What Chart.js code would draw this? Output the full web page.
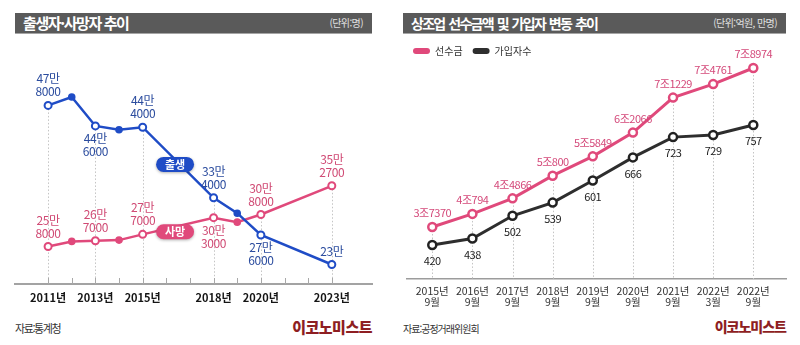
<!DOCTYPE html>
<html lang="ko">
<head>
<meta charset="utf-8">
<script src="https://cdn.jsdelivr.net/npm/chart.js@4.4.1/dist/chart.umd.min.js"></script>
<style>
  body { margin: 0; width: 800px; height: 345px; background: #fff; position: relative; overflow: hidden;
         font-family: "Noto Sans CJK KR", "Noto Sans", sans-serif; }
  .bar { position: absolute; top: 13px; height: 20px; background: #5a5a5a; border-bottom: 1px solid #a5a5a5; color: #fff; }
  .bar h2 { margin: 0; position: absolute; left: 8px; top: 0; line-height: 20px; font-size: 15px; font-weight: 700; letter-spacing: -1.4px; white-space: nowrap; }
  .bar .unit { position: absolute; right: 9px; top: 0; line-height: 20px; font-size: 10px; color: #e0e0e0; letter-spacing: -0.6px; }
  .box { position: absolute; width: 400px; }
  .src { position: absolute; top: 320px; font-size: 11px; color: #333; letter-spacing: -1.4px; }
  .logo { position: absolute; top: 316px; font-size: 15px; font-weight: 900; color: #8e1e22; letter-spacing: -0.5px; }
</style>
</head>
<body>
<div class="bar" style="left:15px;width:357px"><h2>출생자·사망자 추이</h2><span class="unit">(단위:명)</span></div>
<div class="bar" style="left:403px;width:383px"><h2 style="font-size:14px;letter-spacing:-1.7px;word-spacing:1.5px">상조업 선수금액 및 가입자 변동 추이</h2><span class="unit">(단위:억원, 만명)</span></div>

<div class="box" style="left:0;top:40px;height:270px"><canvas id="popChart" width="400" height="270"></canvas></div>
<div class="box" style="left:400px;top:36px;height:274px"><canvas id="fundChart" width="400" height="274"></canvas></div>

<div class="src" style="left:15px">자료:통계청</div>
<div class="logo" style="right:428px">이코노미스트</div>
<div class="src" style="left:403px;letter-spacing:-1px;font-size:10px;top:321px">자료:공정거래위원회</div>
<div class="logo" style="right:14px;font-size:14px;letter-spacing:-1px">이코노미스트</div>

<script>
// 출생자·사망자 추이 (명)
const years = [2011, 2012, 2013, 2014, 2015, 2016, 2017, 2018, 2019, 2020, 2021, 2022, 2023];
const births = [478000, 491000, 446000, 440000, 444000, null, null, 334000, 310000, 276000, null, null, 230000];
const deaths = [258000, 266000, 267000, 268000, 277000, null, null, 303000, 296000, 308000, null, null, 352700];
const labeledYears = [2011, 2013, 2015, 2018, 2020, 2023];

// 상조업 선수금(억원) / 가입자수(만명)
const periods = [['2015년', '9월'], ['2016년', '9월'], ['2017년', '9월'], ['2018년', '9월'], ['2019년', '9월'],
                 ['2020년', '9월'], ['2021년', '9월'], ['2022년', '3월'], ['2022년', '9월']];
const prepaid = [37370, 40794, 44866, 50800, 55849, 62066, 71229, 74761, 78974];
const members = [420, 438, 502, 539, 601, 666, 723, 729, 757];

const FONT = '"Noto Sans CJK KR", "Noto Sans", sans-serif';
const BLUE = '#1f4cc6';
const PINK = '#e0497b';
const DARK = '#2e2e2e';

Chart.defaults.font.family = FONT;
Chart.defaults.animation = false;

function fmtMan(v) {
    const man = Math.floor(v / 10000);
    const rest = v % 10000;
    return rest ? [man + '만', String(rest)] : [man + '만'];
}

function fmtJo(v) {
    return [Math.floor(v / 10000) + '조' + (v % 10000)];
}

// dotted guides from the highest point down to the axis
const guideLines = {
    id: 'guideLines',
    beforeDatasetsDraw(chart, args, opts) {
        const { ctx, chartArea } = chart;
        ctx.save();
        ctx.strokeStyle = '#c4c4c4';
        ctx.lineWidth = 1;
        ctx.setLineDash([1.5, 2]);
        opts.indices.forEach(i => {
            let top = Infinity, x = null;
            chart.data.datasets.forEach((d, k) => {
                const p = chart.getDatasetMeta(k).data[i];
                if (p && !p.skip && isFinite(p.y)) { top = Math.min(top, p.y); x = p.x; }
            });
            if (x === null) return;
            ctx.beginPath();
            ctx.moveTo(Math.round(x) + 0.5, top);
            ctx.lineTo(Math.round(x) + 0.5, chartArea.bottom);
            ctx.stroke();
        });
        ctx.restore();
    }
};

// short tick marks standing on the axis line
const axisTicks = {
    id: 'axisTicks',
    afterDraw(chart, args, opts) {
        if (!opts.show) return;
        const { ctx, chartArea, scales } = chart;
        ctx.save();
        ctx.strokeStyle = '#a8a8a8';
        ctx.lineWidth = 1;
        scales.x.ticks.forEach(t => {
            const x = Math.round(scales.x.getPixelForValue(t.value)) + 0.5;
            ctx.beginPath();
            ctx.moveTo(x, chartArea.bottom - 6);
            ctx.lineTo(x, chartArea.bottom);
            ctx.stroke();
        });
        ctx.restore();
    }
};

// value text next to the points
const valueLabels = {
    id: 'valueLabels',
    afterDatasetsDraw(chart, args, opts) {
        const { ctx } = chart;
        ctx.save();
        ctx.font = opts.font;
        ctx.letterSpacing = opts.spacing;
        ctx.textAlign = 'center';
        ctx.textBaseline = 'middle';
        chart.data.datasets.forEach((ds, k) => {
            const meta = chart.getDatasetMeta(k);
            ctx.fillStyle = ds.labelColor;
            ds.labelIdx.forEach(i => {
                const p = meta.data[i];
                const raw = ds.data[i];
                const v = typeof raw === 'object' ? raw.y : raw;
                const lines = ds.format(v);
                if (ds.labelBelow.includes(i)) {
                    lines.forEach((s, n) => ctx.fillText(s, p.x, p.y + opts.below + n * opts.lineHeight));
                } else {
                    const last = lines.length - 1;
                    lines.forEach((s, n) => ctx.fillText(s, p.x, p.y - opts.above - (last - n) * opts.lineHeight));
                }
            });
        });
        ctx.restore();
    }
};

// pill-shaped series names on the lines
const badges = {
    id: 'badges',
    afterDatasetsDraw(chart, args, opts) {
        const { ctx, scales } = chart;
        ctx.save();
        ctx.font = 'bold 11px ' + FONT;
        ctx.textAlign = 'center';
        ctx.textBaseline = 'middle';
        opts.items.forEach(b => {
            const x = scales.x.getPixelForValue(b.x);
            const y = scales.y.getPixelForValue(b.y);
            ctx.shadowColor = 'rgba(0,0,0,0.3)';
            ctx.shadowBlur = 3;
            ctx.shadowOffsetY = 1;
            ctx.fillStyle = b.color;
            ctx.beginPath();
            ctx.roundRect(x - 19, y - 7.5, 38, 15, 7.5);
            ctx.fill();
            ctx.shadowColor = 'transparent';
            ctx.fillStyle = '#fff';
            ctx.fillText(b.text, x, y + 0.5);
        });
        ctx.restore();
    }
};

const labelIdx = labeledYears.map(y => years.indexOf(y));

function markerRadius(series) {
    return series.map((v, i) => v === null ? 0 : (labeledYears.includes(years[i]) ? 3.5 : 2.8));
}
function markerFill(series, color) {
    return series.map((v, i) => labeledYears.includes(years[i]) ? '#fff' : color);
}

new Chart(document.getElementById('popChart'), {
    type: 'line',
    data: {
        datasets: [{
            label: '출생',
            data: years.map((y, i) => ({ x: y, y: births[i] })),
            borderColor: BLUE,
            backgroundColor: BLUE,
            borderWidth: 2.5,
            pointRadius: markerRadius(births),
            pointBackgroundColor: markerFill(births, BLUE),
            pointBorderColor: BLUE,
            pointBorderWidth: 2,
            spanGaps: true,
            clip: false,
            labelIdx: labelIdx,
            labelBelow: [2, 9],
            labelColor: '#2b4c9e',
            format: fmtMan
        }, {
            label: '사망',
            data: years.map((y, i) => ({ x: y, y: deaths[i] })),
            borderColor: PINK,
            backgroundColor: PINK,
            borderWidth: 2.5,
            pointRadius: markerRadius(deaths),
            pointBackgroundColor: markerFill(deaths, PINK),
            pointBorderColor: PINK,
            pointBorderWidth: 2,
            spanGaps: true,
            clip: false,
            labelIdx: labelIdx,
            labelBelow: [7],
            labelColor: '#d04a74',
            format: fmtMan
        }]
    },
    options: {
        responsive: false,
        layout: { padding: { left: 15, right: 28, top: 0, bottom: 0 } },
        plugins: {
            legend: { display: false },
            tooltip: { enabled: false },
            guideLines: { indices: labelIdx },
            axisTicks: { show: true },
            valueLabels: { font: '12px ' + FONT, spacing: '-0.4px', above: 13.5, below: 12.5, lineHeight: 13 },
            badges: { items: [
                { text: '출생', x: 2016.37, y: 386000, color: BLUE },
                { text: '사망', x: 2016.37, y: 281000, color: PINK }
            ] }
        },
        scales: {
            x: {
                type: 'linear',
                min: 2009.6,
                max: 2024.7,
                afterBuildTicks: s => { s.ticks = years.map(v => ({ value: v })); },
                afterFit: s => { s.height = 26; },
                grid: { display: false, drawTicks: false },
                border: { display: true, color: '#a3a3a3', width: 2 },
                ticks: {
                    autoSkip: false,
                    maxRotation: 0,
                    padding: 7,
                    color: '#151515',
                    font: { size: 11, weight: 'bold' },
                    callback: v => labeledYears.includes(v) ? v + '년' : ''
                }
            },
            y: { display: false, min: 199600, max: 570600 }
        }
    },
    plugins: [guideLines, axisTicks, valueLabels, badges]
});

new Chart(document.getElementById('fundChart'), {
    type: 'line',
    data: {
        datasets: [{
            label: '선수금',
            data: prepaid.map((v, i) => ({ x: i, y: v })),
            yAxisID: 'y',
            borderColor: PINK,
            backgroundColor: PINK,
            borderWidth: 3,
            pointRadius: 4,
            pointBackgroundColor: '#fff',
            pointBorderColor: PINK,
            pointBorderWidth: 2.5,
            clip: false,
            labelIdx: prepaid.map((v, i) => i),
            labelBelow: [],
            labelColor: '#d4497a',
            format: fmtJo
        }, {
            label: '가입자수',
            data: members.map((v, i) => ({ x: i, y: v })),
            yAxisID: 'y2',
            borderColor: DARK,
            backgroundColor: DARK,
            borderWidth: 3,
            pointRadius: 4,
            pointBackgroundColor: '#fff',
            pointBorderColor: '#222',
            pointBorderWidth: 2.5,
            clip: false,
            labelIdx: members.map((v, i) => i),
            labelBelow: members.map((v, i) => i),
            labelColor: '#222',
            format: v => [String(v)]
        }]
    },
    options: {
        responsive: false,
        layout: { padding: { left: 3, right: 14, top: 0, bottom: 0 } },
        plugins: {
            legend: {
                position: 'top',
                align: 'start',
                labels: {
                    boxWidth: 17,
                    boxHeight: 6,
                    useBorderRadius: true,
                    borderRadius: 3,
                    padding: 10,
                    color: '#333',
                    font: { size: 10 },
                    generateLabels: chart => Chart.defaults.plugins.legend.labels.generateLabels(chart)
                        .map(l => Object.assign(l, { lineWidth: 0, fillStyle: l.strokeStyle }))
                }
            },
            tooltip: { enabled: false },
            guideLines: { indices: prepaid.map((v, i) => i) },
            axisTicks: { show: false },
            valueLabels: { font: '11px ' + FONT, spacing: '-0.5px', above: 14, below: 16, lineHeight: 12 }
        },
        scales: {
            x: {
                type: 'linear',
                min: -0.642,
                max: 8.815,
                afterBuildTicks: s => { s.ticks = periods.map((p, i) => ({ value: i })); },
                afterFit: s => { s.height = 31; },
                grid: { display: false, drawTicks: false },
                border: { display: true, color: '#9c9c9c', width: 1.5 },
                ticks: {
                    autoSkip: false,
                    maxRotation: 0,
                    padding: 7,
                    color: '#333',
                    font: { size: 10.5, lineHeight: 1 },
                    callback: v => periods[v]
                }
            },
            y: { display: false, min: 23764, max: 79495 },
            y2: { display: false, min: 324.5, max: 922.7 }
        }
    },
    plugins: [guideLines, axisTicks, valueLabels]
});
</script>
</body>
</html>
